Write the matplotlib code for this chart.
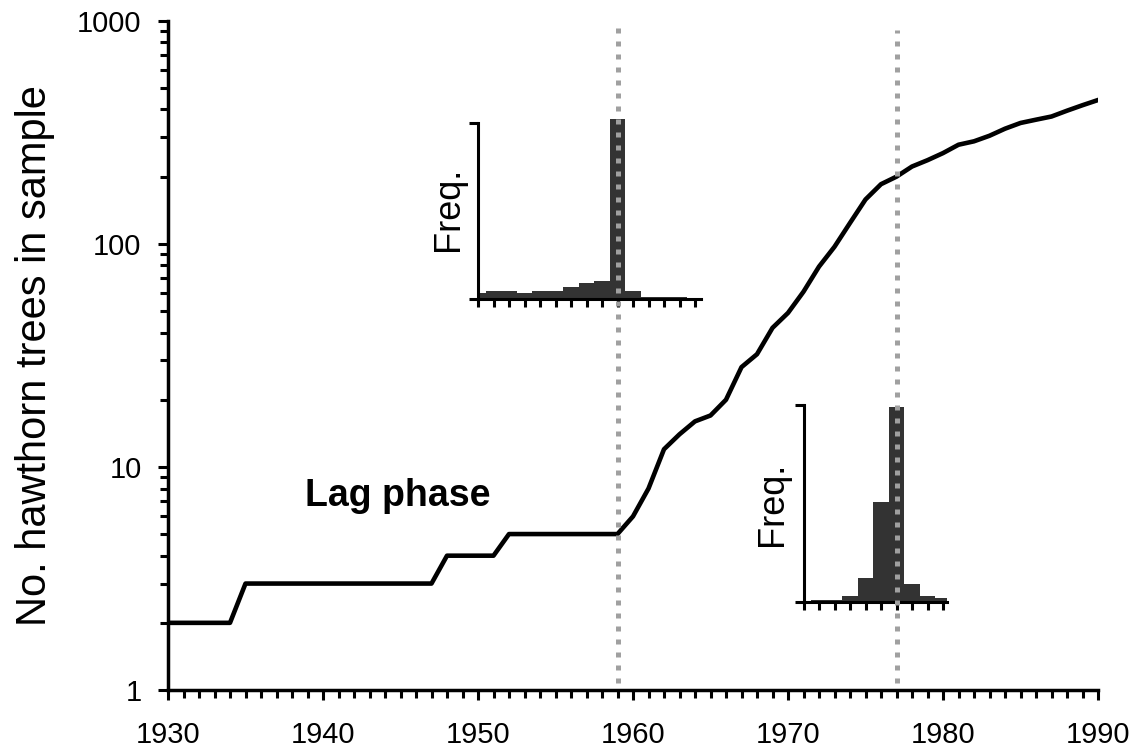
import matplotlib
matplotlib.use("Agg")
import matplotlib.pyplot as plt
from matplotlib.ticker import NullFormatter
from matplotlib.transforms import blended_transform_factory

plt.rcParams['font.family'] = ['Liberation Sans', 'DejaVu Sans']

# cumulative number of hawthorn trees per year
years = list(range(1930, 1991))
trees = [2, 2, 2, 2, 2,
         3, 3, 3, 3, 3, 3, 3, 3, 3, 3, 3, 3, 3,
         4, 4, 4, 4,
         5, 5, 5, 5, 5, 5, 5, 5,
         6, 8, 12, 14, 16, 17, 20, 28, 32, 42,
         49, 61, 79, 97, 124, 158, 185, 200, 222, 237,
         255, 278, 288, 305, 328, 348, 360, 372, 395, 418, 441]

# marked years (dotted lines)
mark_years = [1959, 1977]

# inset histograms (relative frequency, % of axis height)
hist1_years = list(range(1950, 1965))
hist1_freq = [3.2, 4.5, 4.5, 3.2, 4.5, 4.5, 7.0, 9.3, 10.4, 102.3, 4.5, 1.3, 1.3, 1.3, 0.8]
hist2_years = list(range(1971, 1981))
hist2_freq = [0, 1.2, 1.2, 3.2, 12.2, 50.9, 99.2, 9.3, 3.2, 2.0]

W, H = 1137, 753
fig = plt.figure(figsize=(W / 100, H / 100), dpi=100)
ax = fig.add_axes([168 / W, 1 - 690 / H, (1098 - 168) / W, (690 - 20.7) / H])

ax.plot(years, trees, color='black', lw=3.3, zorder=3)
ax.set_yscale('log')
ax.set_ylim(1, 1000)
ax.set_xlim(1930, 1990)

ax.set_xticks(range(1930, 1991, 10))
ax.set_xticks(range(1930, 1991), minor=True)
ax.set_yticks([1, 10, 100, 1000])
ax.set_yticklabels(['1', '10', '100', '1000'])
ax.yaxis.set_minor_formatter(NullFormatter())

for s in ['top', 'right']:
    ax.spines[s].set_visible(False)
for s in ['left', 'bottom']:
    ax.spines[s].set_linewidth(2.5)

ax.tick_params(which='major', direction='out', length=7, width=2.2, labelsize=21)
ax.tick_params(which='minor', direction='out', length=5.8, width=2.2)
ax.tick_params(axis='x', which='major', pad=15)
ax.tick_params(axis='y', which='major', pad=12)

ax.set_ylabel('No. hawthorn trees in sample', fontsize=30, labelpad=16)

ax.text(1944.8, 7.4, 'Lag phase', fontsize=27, fontweight='bold',
        ha='center', va='center')

ax.axvline(mark_years[0], ymin=0.01, ymax=1.0, color='#a0a0a0', lw=3.6,
           ls=(0, (1, 1.6)), zorder=10)
ax.axvline(mark_years[1], ymin=0.01, ymax=0.986, color='#a0a0a0', lw=3.6,
           ls=(0, (1, 1.6)), zorder=10)

trans = blended_transform_factory(ax.transData, ax.transAxes)
axh = 690 - 20.7


def make_inset(yrs, freq, x0, x1, ybot, ytop, ymax, labelpad):
    ins = ax.inset_axes([x0, (690 - ybot) / axh, x1 - x0, (ybot - ytop) / axh],
                        transform=trans)
    ins.bar(yrs, freq, width=1.0, color='#333333', linewidth=0)
    ins.set_xlim(x0, x1)
    ins.set_ylim(0, ymax)
    ins.set_facecolor('none')
    for s in ['top', 'right']:
        ins.spines[s].set_visible(False)
    for s in ['left', 'bottom']:
        ins.spines[s].set_linewidth(2.2)
    ins.spines['left'].set_bounds(0, 100)
    ins.set_xticks(yrs)
    ins.set_yticks([0, 100])
    ins.tick_params(axis='x', direction='out', length=5.8, width=2.2, labelbottom=False)
    ins.tick_params(axis='y', direction='out', length=6.5, width=2.2, labelleft=False)
    ins.set_ylabel('Freq.', fontsize=26, labelpad=labelpad)
    return ins


ins1 = make_inset(hist1_years, hist1_freq, 1950, 1964.37, 299, 118.6, 102.5, 2)
ins2 = make_inset(hist2_years, hist2_freq, 1971, 1980.26, 602, 405, 100, 3)

fig.savefig('out.png', dpi=100)
